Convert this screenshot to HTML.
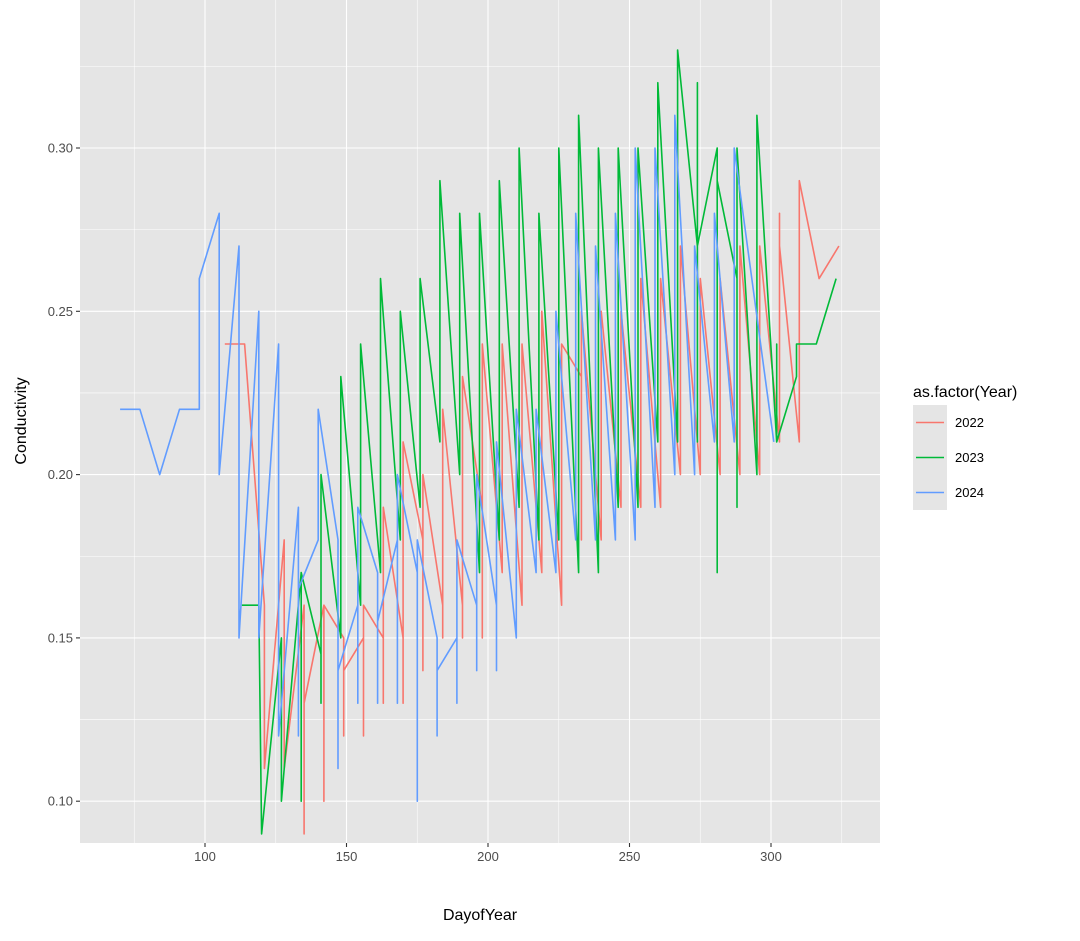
<!DOCTYPE html>
<html><head><meta charset="utf-8"><style>
body{margin:0;background:#fff;}
svg text{font-family:"Liberation Sans",Arial,sans-serif;}
</style></head><body>
<svg id="s" width="1080" height="936" xmlns="http://www.w3.org/2000/svg"></svg>
<script>
const X=d=>205+(d-100)*2.83, Y=v=>148+(0.30-v)*3266;
const L=80,R=880,T=0,B=843;
let h=`<rect x="${L}" y="${T}" width="${R-L}" height="${B-T}" fill="#e5e5e5"/>`;
[75,125,175,225,275,325].forEach(d=>h+=`<line x1="${X(d)}" x2="${X(d)}" y1="${T}" y2="${B}" stroke="#fff" stroke-width="0.55"/>`);
[0.125,0.175,0.225,0.275,0.325].forEach(v=>h+=`<line x1="${L}" x2="${R}" y1="${Y(v)}" y2="${Y(v)}" stroke="#fff" stroke-width="0.55"/>`);
[100,150,200,250,300].forEach(d=>{h+=`<line x1="${X(d)}" x2="${X(d)}" y1="${T}" y2="${B}" stroke="#fff" stroke-width="1.1"/><line x1="${X(d)}" x2="${X(d)}" y1="${B}" y2="${B+4}" stroke="#333" stroke-width="1.1"/><text x="${X(d)}" y="${B+18}" font-size="13" fill="#4d4d4d" text-anchor="middle">${d}</text>`;});
[0.10,0.15,0.20,0.25,0.30].forEach(v=>{h+=`<line x1="${L}" x2="${R}" y1="${Y(v)}" y2="${Y(v)}" stroke="#fff" stroke-width="1.1"/><line x1="${L-4}" x2="${L}" y1="${Y(v)}" y2="${Y(v)}" stroke="#333" stroke-width="1.1"/><text x="${L-7}" y="${Y(v)+4.5}" font-size="13" fill="#4d4d4d" text-anchor="end">${v.toFixed(2)}</text>`;});
const red=[[107,[.24]],[114,[.24]],[121,[.16,.11]],[128,[.18,.11]],[135,[.16,.09,.13]],[142,[.16,.10,.16]],[149,[.15,.12,.14]],[156,[.15,.12,.16]],[163,[.15,.13,.19]],[170,[.15,.13,.21]],[177,[.18,.14,.20]],[184,[.16,.15,.22]],[191,[.16,.15,.23]],[198,[.19,.15,.24]],[205,[.17,.24]],[212,[.16,.24]],[219,[.17,.25]],[226,[.16,.24]],[233,[.23,.18,.25]],[240,[.18,.25]],[247,[.19,.25]],[254,[.19,.26]],[261,[.19,.26]],[268,[.20,.27]],[275,[.20,.26]],[282,[.20,.26]],[289,[.20,.27]],[296,[.20,.27]],[303,[.21,.28,.27]],[310,[.21,.29]],[317,[.26]],[324,[.27]]];
const green=[[113,[.16]],[119,[.16]],[120,[.09]],[127,[.15,.10]],[134,[.17,.10,.17]],[141,[.145,.13,.20]],[148,[.15,.23]],[155,[.16,.24]],[162,[.17,.26]],[169,[.18,.25]],[176,[.19,.26]],[183,[.21,.29]],[190,[.20,.28]],[197,[.17,.28]],[204,[.18,.29]],[211,[.19,.30]],[218,[.18,.28]],[225,[.18,.30]],[232,[.17,.31]],[239,[.17,.30]],[246,[.19,.30]],[253,[.19,.30]],[260,[.21,.32]],[267,[.21,.33]],[274,[.27,.32,.21,.27]],[281,[.30,.17,.29]],[288,[.26,.19,.30]],[295,[.20,.31]],[302,[.21,.24,.21]],[309,[.23,.24]],[316,[.24]],[323,[.26]]];
const blue=[[70,[.22]],[77,[.22]],[84,[.20]],[91,[.22]],[98,[.22,.26]],[105,[.28,.20]],[112,[.27,.15]],[119,[.25,.15]],[126,[.24,.12]],[133,[.19,.12,.165]],[140,[.18,.22]],[147,[.18,.11,.14]],[154,[.16,.13,.19]],[161,[.17,.13,.155]],[168,[.18,.13,.20]],[175,[.17,.10,.18]],[182,[.15,.12,.14]],[189,[.15,.13,.18]],[196,[.16,.14,.20]],[203,[.16,.14,.21]],[210,[.15,.22]],[217,[.17,.22]],[224,[.17,.25]],[231,[.18,.28]],[238,[.18,.27]],[245,[.18,.28]],[252,[.18,.30]],[259,[.19,.30]],[266,[.20,.31]],[273,[.20,.27]],[280,[.21,.28]],[287,[.21,.30]],[301,[.21]]];
function pl(data,c){let p=[];data.forEach(([d,vs])=>vs.forEach(v=>p.push(X(d).toFixed(1)+','+Y(v).toFixed(1))));return `<polyline points="${p.join(' ')}" fill="none" stroke="${c}" stroke-width="1.6" stroke-linejoin="round"/>`;}
h+=pl(red,'#F8766D')+pl(green,'#00BA38')+pl(blue,'#619CFF');
h+=`<text x="480" y="920" font-size="16" fill="#000" text-anchor="middle">DayofYear</text>`;
h+=`<text transform="translate(26,421) rotate(-90)" font-size="16" fill="#000" text-anchor="middle">Conductivity</text>`;
h+=`<text x="913" y="397" font-size="16" fill="#000">as.factor(Year)</text>`;
[['2022','#F8766D'],['2023','#00BA38'],['2024','#619CFF']].forEach(([t,c],i)=>{const y=405+i*35;h+=`<rect x="913" y="${y}" width="34" height="35" fill="#e5e5e5"/><line x1="916" x2="944" y1="${y+17.5}" y2="${y+17.5}" stroke="${c}" stroke-width="1.6"/><text x="955" y="${y+22}" font-size="13" fill="#000">${t}</text>`;});
document.getElementById('s').innerHTML=h;
</script>
</body></html>
